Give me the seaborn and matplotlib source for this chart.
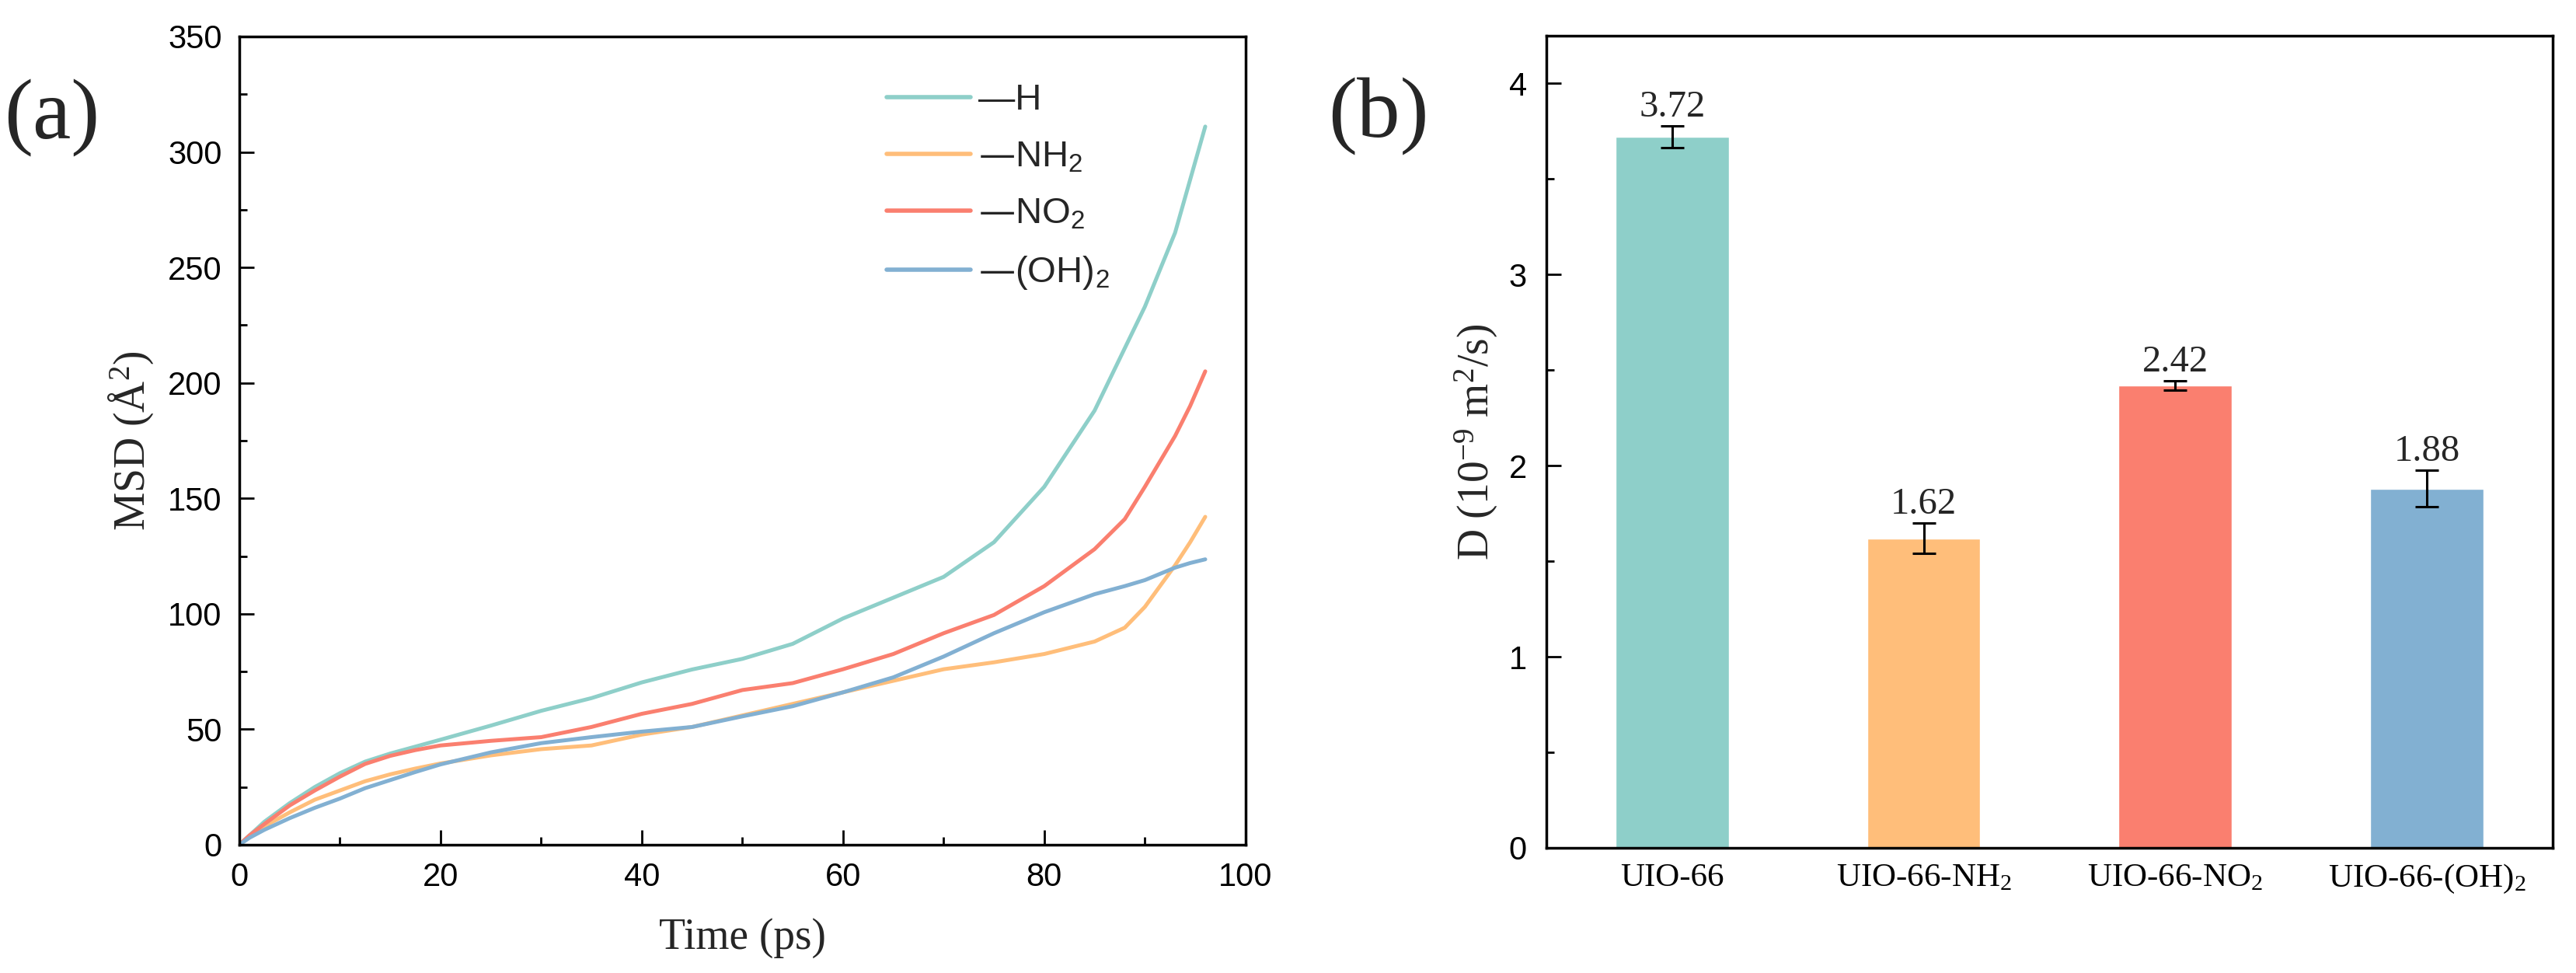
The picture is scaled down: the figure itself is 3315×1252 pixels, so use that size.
import numpy as np
import pandas as pd
import matplotlib
matplotlib.use("Agg")
import matplotlib.pyplot as plt
from matplotlib.ticker import MultipleLocator
import seaborn as sns

# ---- data ----
time_ps = [0, 1, 2.5, 5, 7.5, 10, 12.5, 15, 17.5, 20, 25, 30, 35, 40, 45, 50, 55, 60, 65, 70,
           75, 80, 85, 88, 90, 93, 94.5, 96]
msd_h = [0, 4, 10, 18, 25, 31, 36, 39.5, 42.5, 45.5, 51.6, 58, 63.5, 70.3, 75.9, 80.5, 87, 98, 107, 116,
         131, 155, 188, 215, 233, 265, 288, 311]
msd_nh2 = [0, 3.5, 8, 14, 19.5, 23.5, 27.5, 30.5, 33, 35.2, 38.7, 41.4, 43, 47.7, 51, 56, 61, 66, 71, 76,
           79, 82.6, 88, 94, 103, 121, 131, 142]
msd_no2 = [0, 4, 9, 17, 23.5, 29.5, 35, 38.5, 41, 43, 45, 46.6, 51, 56.7, 61, 67, 70, 76, 82.6, 91.6,
           99.5, 112, 128, 141, 155, 177, 190, 205]
msd_oh2 = [0, 3, 6.5, 11.5, 16, 20, 24.5, 28, 31.5, 34.8, 40, 44, 46.6, 49, 51, 55.6, 60, 66, 72.5, 81.5,
           91.6, 100.7, 108.5, 112, 114.6, 120, 122, 123.6]
groups = ["—H", "—NH$_2$", "—NO$_2$", "—(OH)$_2$"]

materials = ["UIO-66", "UIO-66-NH$_2$", "UIO-66-NO$_2$", "UIO-66-(OH)$_2$"]
diff_coef = [3.72, 1.62, 2.42, 1.88]
diff_err = [0.057, 0.078, 0.023, 0.096]

colors = ["#8ECFC9", "#FFBE7A", "#FA7F6F", "#82B0D2"]

# long form table for the line plot
df_msd = pd.concat([
    pd.DataFrame({"time": time_ps, "msd": vals, "group": g})
    for g, vals in zip(groups, [msd_h, msd_nh2, msd_no2, msd_oh2])
], ignore_index=True)
df_d = pd.DataFrame({"material": materials, "D": diff_coef})

sns.set_theme(style="ticks")
plt.rcParams["font.family"] = ["Liberation Sans", "DejaVu Sans"]
plt.rcParams["mathtext.default"] = "regular"
plt.rcParams["axes.linewidth"] = 2.5
plt.rcParams["axes.edgecolor"] = "black"

SERIF = ["Liberation Serif", "DejaVu Serif"]

fig = plt.figure(figsize=(33.15, 12.52), dpi=100)
ax1 = fig.add_axes([0.0929, 0.1318, 0.3906, 0.8307])
ax2 = fig.add_axes([0.6003, 0.1286, 0.3906, 0.8347])

# ---- (a) MSD curves ----
sns.lineplot(data=df_msd, x="time", y="msd", hue="group", hue_order=groups,
             palette=colors, linewidth=3.6, ax=ax1)
ax1.set_xlim(0, 100)
ax1.set_ylim(0, 350)
ax1.xaxis.set_major_locator(MultipleLocator(20))
ax1.xaxis.set_minor_locator(MultipleLocator(10))
ax1.yaxis.set_major_locator(MultipleLocator(50))
ax1.yaxis.set_minor_locator(MultipleLocator(25))
ax1.tick_params(which="both", direction="in", top=False, right=False,
                width=2, labelsize=30, pad=16, colors="black")
ax1.tick_params(which="major", length=14)
ax1.tick_params(which="minor", length=7)
ax1.set_xlabel("Time (ps)", family=SERIF, fontsize=40)
ax1.set_ylabel("MSD (Å$^2$)", family=SERIF, fontsize=40)
ax1.xaxis.set_label_coords(0.5, -0.09)
ax1.yaxis.set_label_coords(-0.083, 0.5)
leg = ax1.legend(title=None, frameon=False, fontsize=34, loc="upper left",
                 bbox_to_anchor=(0.643, 0.942), borderaxespad=0, borderpad=0,
                 handlelength=2.3, handletextpad=0.2, labelspacing=0.62)
for line in leg.get_lines():
    line.set_linewidth(4)
for spine in ax1.spines.values():
    spine.set_visible(True)
    spine.set_linewidth(2.5)

# ---- (b) diffusion coefficients ----
sns.barplot(data=df_d, x="material", y="D", hue="material", palette=colors,
            width=0.45, errorbar=None, legend=False, saturation=1, ax=ax2)
ax2.errorbar(range(len(materials)), diff_coef, yerr=diff_err, fmt="none",
             ecolor="black", elinewidth=2.2, capsize=11, capthick=2.2)
for i, (v, e) in enumerate(zip(diff_coef, diff_err)):
    ax2.text(i, v + e + 0.05, f"{v:.2f}", ha="center", va="baseline",
             family=SERIF, fontsize=35)
ax2.set_xlim(-0.5, 3.5)
ax2.set_ylim(0, 4.25)
ax2.yaxis.set_major_locator(MultipleLocator(1))
ax2.yaxis.set_minor_locator(MultipleLocator(0.5))
ax2.tick_params(axis="y", which="both", direction="in", right=False,
                width=2, labelsize=30, pad=18, colors="black")
ax2.tick_params(axis="y", which="major", length=14)
ax2.tick_params(axis="y", which="minor", length=7)
ax2.tick_params(axis="x", length=0, labelsize=31, pad=14, colors="black")
for lbl in ax2.get_xticklabels():
    lbl.set_family(SERIF)
ax2.set_xlabel("")
ax2.set_ylabel("D (10$^{-9}$ m$^2$/s)", family=SERIF, fontsize=40)
ax2.yaxis.set_label_coords(-0.046, 0.5)
for spine in ax2.spines.values():
    spine.set_visible(True)
    spine.set_linewidth(2.5)

# panel tags
fig.text(0.020, 0.8786, "(a)", family=SERIF, fontsize=80, ha="center", va="center")
fig.text(0.535, 0.880, "(b)", family=SERIF, fontsize=80, ha="center", va="center")

fig.savefig("out.png", dpi=100)
